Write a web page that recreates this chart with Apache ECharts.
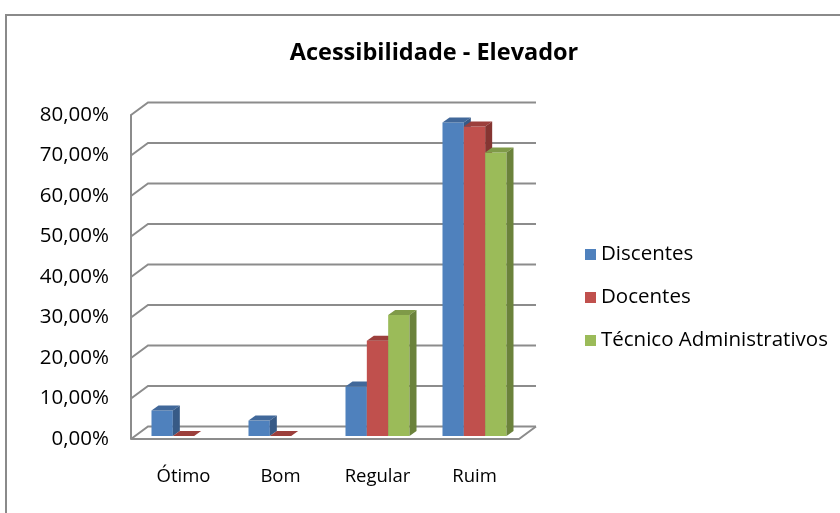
<!DOCTYPE html>
<html>
<head>
<meta charset="utf-8">
<script src="https://cdn.jsdelivr.net/npm/echarts@6/dist/echarts.min.js"></script>
<style>
  html, body { margin: 0; padding: 0; background: #fff; }
  #frame {
    position: absolute; left: 5px; top: 14px; width: 840px; height: 510px;
    border-top: 2px solid #8a8a8a; border-left: 2px solid #8a8a8a;
  }
  #chart { position: absolute; left: 0; top: 0; width: 840px; height: 513px; }
</style>
</head>
<body>
<div id="frame"></div>
<div id="chart"></div>
<script>
// data
const categories = ['Ótimo', 'Bom', 'Regular', 'Ruim']
const discentes = [6.3, 3.8, 12.2, 77.4]
const docentes = [0, 0, 23.5, 76.4]
const tecnicos = [null, null, 29.9, 70.0]
const yTicks = [0, 10, 20, 30, 40, 50, 60, 70, 80]

const seriesNames = ['Discentes', 'Docentes', 'Técnico Administrativos']
const faceColors = ['#4f81bd', '#c0504d', '#9bbb59']
const topColors = ['#41689a', '#9c3f3c', '#7f9a48']
const sideColors = ['#375a86', '#853532', '#6b823b']

const FONT = 'Open Sans'
const WALL_DX = 17, WALL_DY = 12.5
const BAR_DX = 7, BAR_DY = 5

const chart = echarts.init(document.getElementById('chart'))

// walls and gridlines, drawn from the y scale
const renderWalls = (params, api) => {
  const v = api.value(1)
  const cs = params.coordSys
  const y = api.coord([0, v])[1]
  const left = cs.x
  const right = cs.x + cs.width
  const style = { stroke: '#8c8c8c', lineWidth: 2, fill: null }
  const children = [{
    type: 'polyline',
    shape: { points: [[left, y], [left + WALL_DX, y - WALL_DY], [right + WALL_DX, y - WALL_DY]] },
    style
  }]
  if (v === 0) {
    children.push({
      type: 'polyline',
      shape: { points: [[left, y], [right, y], [right + WALL_DX, y - WALL_DY]] },
      style
    })
  }
  return { type: 'group', children }
}

const makeBarRenderer = (idx) => (params, api) => {
  const v = api.value(1)
  if (v == null || isNaN(v)) return
  const cat = api.value(0)
  const base = api.coord([cat, 0])
  const top = api.coord([cat, v])
  const band = api.size([1, 0])[0]
  const w = band * 0.22
  const shiftX = 4, shiftY = 3
  const x0 = base[0] - 1.5 * w + idx * w + shiftX
  const x1 = x0 + w
  const yb = base[1] - shiftY
  const yt = top[1] - shiftY
  return {
    type: 'group',
    children: [
      { type: 'rect', shape: { x: x0, y: yt, width: w, height: yb - yt }, style: { fill: faceColors[idx] } },
      { type: 'polygon', shape: { points: [[x0, yt], [x1, yt], [x1 + BAR_DX, yt - BAR_DY], [x0 + BAR_DX, yt - BAR_DY]] }, style: { fill: topColors[idx] } },
      { type: 'polygon', shape: { points: [[x1, yt], [x1 + BAR_DX, yt - BAR_DY], [x1 + BAR_DX, yb - BAR_DY], [x1, yb]] }, style: { fill: sideColors[idx] } }
    ]
  }
}

const seriesData = [discentes, docentes, tecnicos]

chart.setOption({
  animation: false,
  title: {
    text: 'Acessibilidade - Elevador',
    left: 429,
    textAlign: 'center',
    top: 36,
    textStyle: { fontFamily: FONT, fontSize: 23.5, fontWeight: 'bold', color: '#000' }
  },
  legend: {
    orient: 'vertical',
    left: 580,
    top: 239,
    itemWidth: 11,
    itemHeight: 11,
    itemGap: 22,
    itemStyle: { borderWidth: 0 },
    icon: 'rect',
    data: seriesNames,
    textStyle: { fontFamily: FONT, fontSize: 20.5, lineHeight: 20, color: '#000', padding: [0, 0, 0, 0] }
  },
  grid: { left: 131, right: 321, top: 115, bottom: 74 },
  xAxis: {
    type: 'category',
    data: categories,
    axisLine: { show: false },
    axisTick: { show: false },
    axisLabel: { margin: 28, fontFamily: FONT, fontSize: 18.5, color: '#000', padding: [0, 0, 0, 8] }
  },
  yAxis: {
    type: 'value',
    min: 0,
    max: 80,
    interval: 10,
    splitLine: { show: false },
    axisTick: { show: false },
    axisLine: { show: true, lineStyle: { color: '#8c8c8c', width: 2 } },
    axisLabel: {
      margin: 22,
      fontFamily: FONT,
      fontSize: 20.5,
      color: '#000',
      formatter: v => v.toFixed(2).replace('.', ',') + '%'
    }
  },
  series: [
    {
      type: 'custom',
      silent: true,
      renderItem: renderWalls,
      data: yTicks.map(t => [0, t]),
      z: 1
    },
    ...seriesNames.map((name, i) => ({
      name,
      type: 'custom',
      renderItem: makeBarRenderer(i),
      itemStyle: { color: faceColors[i] },
      data: seriesData[i].map((v, c) => [c, v == null ? '-' : v]),
      encode: { x: 0, y: 1 },
      z: 2 + i
    }))
  ]
})
</script>
</body>
</html>
